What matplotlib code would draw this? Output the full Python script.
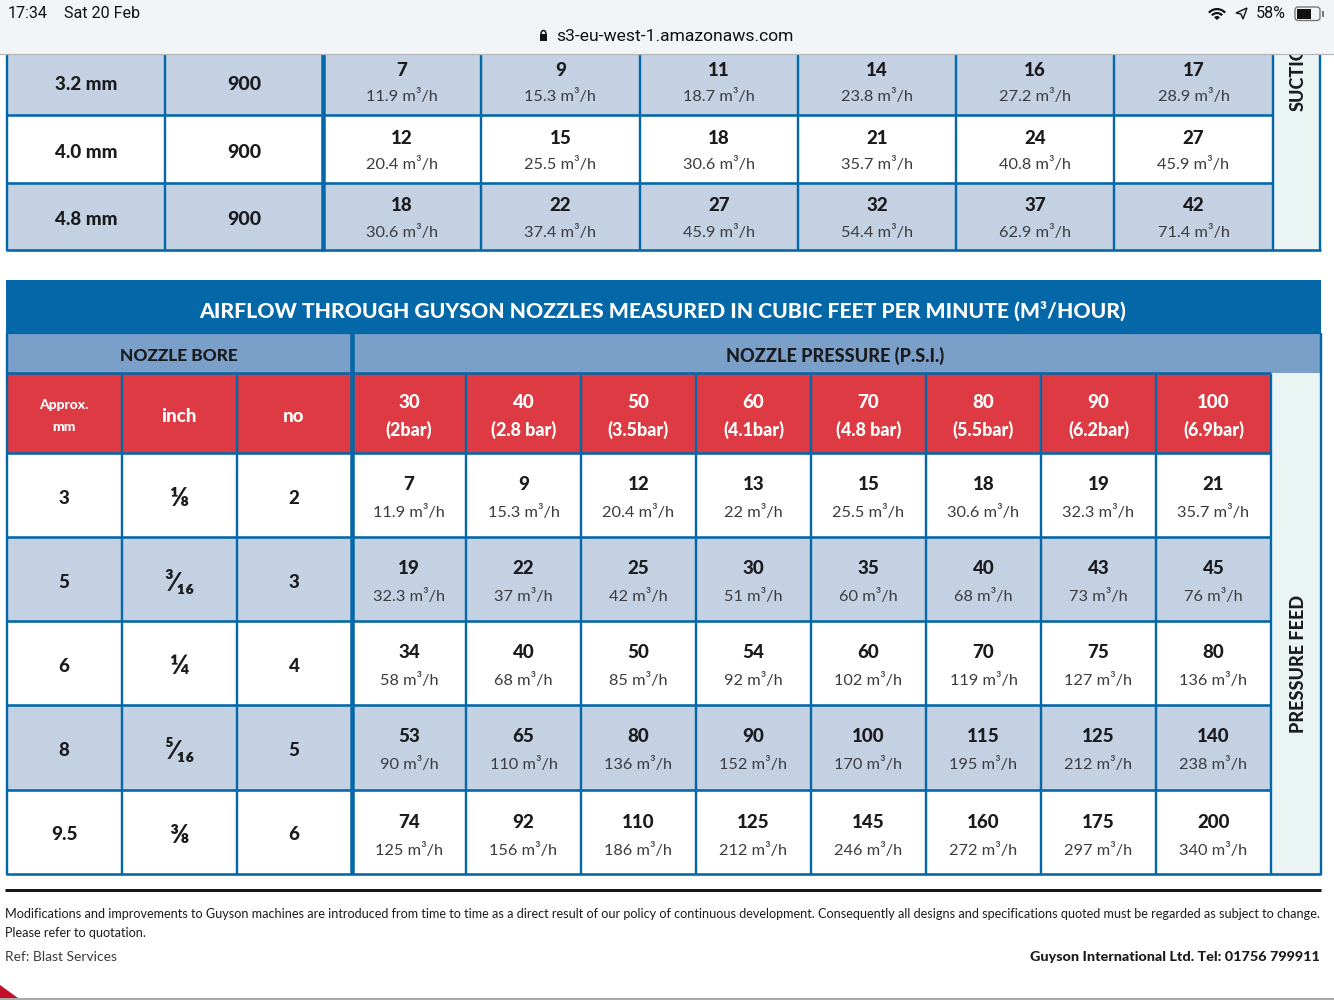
import matplotlib
matplotlib.use("Agg")
import matplotlib.pyplot as plt
from matplotlib.patches import Rectangle, Polygon, Wedge, FancyBboxPatch, Arc

# ---------- data ----------
top_bores = ["3.2 mm", "4.0 mm", "4.8 mm"]
top_suction = ["900", "900", "900"]
top_counts = [["7", "9", "11", "14", "16", "17"],
              ["12", "15", "18", "21", "24", "27"],
              ["18", "22", "27", "32", "37", "42"]]
top_flows = [["11.9", "15.3", "18.7", "23.8", "27.2", "28.9"],
             ["20.4", "25.5", "30.6", "35.7", "40.8", "45.9"],
             ["30.6", "37.4", "45.9", "54.4", "62.9", "71.4"]]
title = "AIRFLOW THROUGH GUYSON NOZZLES MEASURED IN CUBIC FEET PER MINUTE (M³/HOUR)"
pressure_heads = [("30", "(2bar)"), ("40", "(2.8 bar)"), ("50", "(3.5bar)"), ("60", "(4.1bar)"),
                  ("70", "(4.8 bar)"), ("80", "(5.5bar)"), ("90", "(6.2bar)"), ("100", "(6.9bar)")]
bore_mm = ["3", "5", "6", "8", "9.5"]
bore_inch = ["⅛", "³⁄₁₆", "¼", "⁵⁄₁₆", "⅜"]
bore_no = ["2", "3", "4", "5", "6"]
cfm = [["7", "9", "12", "13", "15", "18", "19", "21"],
       ["19", "22", "25", "30", "35", "40", "43", "45"],
       ["34", "40", "50", "54", "60", "70", "75", "80"],
       ["53", "65", "80", "90", "100", "115", "125", "140"],
       ["74", "92", "110", "125", "145", "160", "175", "200"]]
m3h = [["11.9", "15.3", "20.4", "22", "25.5", "30.6", "32.3", "35.7"],
       ["32.3", "37", "42", "51", "60", "68", "73", "76"],
       ["58", "68", "85", "92", "102", "119", "127", "136"],
       ["90", "110", "136", "152", "170", "195", "212", "238"],
       ["125", "156", "186", "212", "246", "272", "297", "340"]]
footer1 = ("Modifications and improvements to Guyson machines are introduced from time to time as a direct result "
           "of our policy of continuous development. Consequently all designs and specifications quoted must be "
           "regarded as subject to change.")
footer2 = "Please refer to quotation."
footer3 = "Ref: Blast Services"
footer4 = "Guyson International Ltd. Tel: 01756 799911"

# ---------- style ----------
BLUE = "#0467a7"; BAND = "#7a9fc9"; RED = "#de3a43"; SHADE = "#c3d1e3"; PALE = "#eaf5f3"; INK = "#1b1b1d"; SOFT = "#3c3c40"
FAM = ["Lato", "DejaVu Sans"]

fig = plt.figure(figsize=(13.34, 10), dpi=100)
ax = fig.add_axes([0, 0, 1, 1])
ax.set_xlim(0, 1334); ax.set_ylim(1000, 0); ax.axis("off")
rend = fig.canvas.get_renderer()

def rect(x0, y0, x1, y1, c, z=1):
    ax.add_patch(Rectangle((x0, y0), x1 - x0, y1 - y0, fc=c, ec="none", zorder=z))
def vl(x, y0, y1, w=2.2):
    ax.plot([x, x], [y0, y1], color=BLUE, lw=w * 0.72, solid_capstyle="butt", zorder=3)
def hl(y, x0, x1, w=2.2):
    ax.plot([x0, x1], [y, y], color=BLUE, lw=w * 0.72, solid_capstyle="butt", zorder=3)
def txt(x, y, s, size=14, bold=False, c=INK, fit=None, **k):
    k.setdefault("ha", "center")
    t = ax.text(x, y, s, fontsize=size, fontweight=900 if bold else "normal", color=c,
                va="center", family=FAM, zorder=5, **k)
    if fit:
        t.set_fontsize(size * fit / t.get_window_extent(rend).width)
    return t

# ---------- top table ----------
tx = [7, 165, 323, 481, 640, 798, 956, 1114, 1273, 1320]
ty = [47, 115, 183, 250]
rect(7, 54, 1320, 250, PALE, 0)
for r in range(3):
    c = SHADE if r != 1 else "white"
    rect(7, ty[r], 1273, ty[r + 1], c)
    ym = (ty[r] + ty[r + 1]) / 2
    txt((tx[0] + tx[1]) / 2, ym + 3, top_bores[r], 13.5, True)
    txt((tx[1] + tx[2]) / 2, ym + 3, top_suction[r], 14, True)
    for i in range(6):
        cx = (tx[i + 2] + tx[i + 3]) / 2
        txt(cx, ym - 11, top_counts[r][i], 13.5, True)
        txt(cx, ym + 16, top_flows[r][i] + " m³/h", 11.8, False, SOFT)
for x in tx:
    vl(x, 54, 251, 4.5 if x == 323 else 2.4)
for y in ty[1:]:
    hl(y, 6, 1273 if y != 250 else 1321, 2.6)
txt(1298, 71, "SUCTION", 13, True, rotation=90)

# ---------- lower table ----------
rect(6, 280, 1321, 333, BLUE)
txt(663, 311, title, 18, True, "white", fit=926)
rect(8, 333, 1320, 373, BAND)
vl(352, 333, 874, 4.5)
txt(179, 356, "NOZZLE BORE", 15.5, True, fit=118)
txt(835, 356, "NOZZLE PRESSURE (P.S.I.)", 15.5, True, fit=218)
bx = [7, 122, 237, 352, 466, 581, 696, 811, 926, 1041, 1156, 1271, 1321]
by = [453, 537, 621, 705, 790, 874]
rect(1271, 373, 1321, 874, PALE, 0)
rect(7, 374, 1271, 453, RED)
txt(64, 405, "Approx.", 10, True, "white")
txt(64, 427, "mm", 10, True, "white")
txt(179, 416, "inch", 13.5, True, "white")
txt(294, 416, "no", 13.5, True, "white")
for i, (a, b) in enumerate(pressure_heads):
    cx = (bx[i + 3] + bx[i + 4]) / 2
    txt(cx, 402, a, 13.5, True, "white")
    txt(cx, 430, b, 13, True, "white")
for r in range(5):
    y0, y1 = by[r], by[r + 1]
    rect(7, y0, 1271, y1, "white" if r % 2 == 0 else SHADE)
    ym = (y0 + y1) / 2
    txt(64, ym + 3, bore_mm[r], 13.5, True)
    txt(179, ym + 3, bore_inch[r], 19, True)
    txt(294, ym + 3, bore_no[r], 13.5, True)
    for i in range(8):
        cx = (bx[i + 3] + bx[i + 4]) / 2
        txt(cx, y0 + 32, cfm[r][i], 13.5, True)
        txt(cx, y0 + 60, m3h[r][i] + " m³/h", 11.8, False, SOFT)
for x in bx:
    if x != 352:
        vl(x, 374 if x != 7 and x != 1321 else 333, 875, 2.4)
for y in [373] + by:
    hl(y, 6, 1271 if y != 874 else 1321, 2.6)
hl(333, 6, 1321, 2.2)
txt(1298, 664, "PRESSURE FEED", 13, True, rotation=90)

# ---------- footer ----------
ax.plot([5, 1321], [889.5, 889.5], color="#111111", lw=2.1, solid_capstyle="butt", zorder=3)
txt(5, 914, footer1, 10, False, ha="left", fit=1316)
txt(5, 933, footer2, 10, False, ha="left", fit=142)
txt(5, 957, footer3, 12, False, SOFT, ha="left", fit=112)
txt(1320, 957, footer4, 12, True, ha="right", fit=291)
ax.add_patch(Polygon([(0, 985), (0, 998), (18, 998)], fc="#c2102b", ec="none", zorder=2))
ax.plot([0, 1334], [998.5, 998.5], color="#9a9a9a", lw=1.2, zorder=3)

# ---------- browser chrome ----------
rect(0, 0, 1334, 54, "#f2f5f7", 6)
ax.plot([0, 1334], [54, 54], color="#b5b8ba", lw=0.9, zorder=7)
def ui(x, y, s, size, **k):
    ax.text(x, y, s, fontsize=size, color="#111111", va="center", family=["Roboto", "DejaVu Sans"], zorder=8, **k)
ui(8, 14, "17:34", 11.6)
ui(64, 14, "Sat 20 Feb", 11.6)
ui(556, 36.5, "s3-eu-west-1.amazonaws.com", 12.6)
ui(1256, 14, "58%", 11.6)
rect(540, 34, 547, 41, "#111111", 8)
ax.add_patch(Arc((543.5, 34), 5, 7, theta1=180, theta2=360, color="#111111", lw=1.1, zorder=8))
for rr, w in [(12, 2.2), (8, 2.2)]:
    ax.add_patch(Wedge((1217, 20), rr, 222, 318, width=w, fc="#111111", ec="none", zorder=8))
ax.add_patch(Wedge((1217, 20), 4, 222, 318, fc="#111111", ec="none", zorder=8))
ax.add_patch(Polygon([(1236, 13), (1247, 8), (1243, 19), (1241, 14)], fc="none", ec="#111111", lw=1, zorder=8))
ax.add_patch(FancyBboxPatch((1295, 7), 25, 13.5, boxstyle="round,pad=0,rounding_size=3", fc="none", ec="#777777", lw=1, zorder=8))
rect(1297, 9, 1311, 18.5, "#111111", 8)
rect(1322, 11, 1323.5, 17, "#777777", 8)

fig.savefig("out.png", dpi=100)
